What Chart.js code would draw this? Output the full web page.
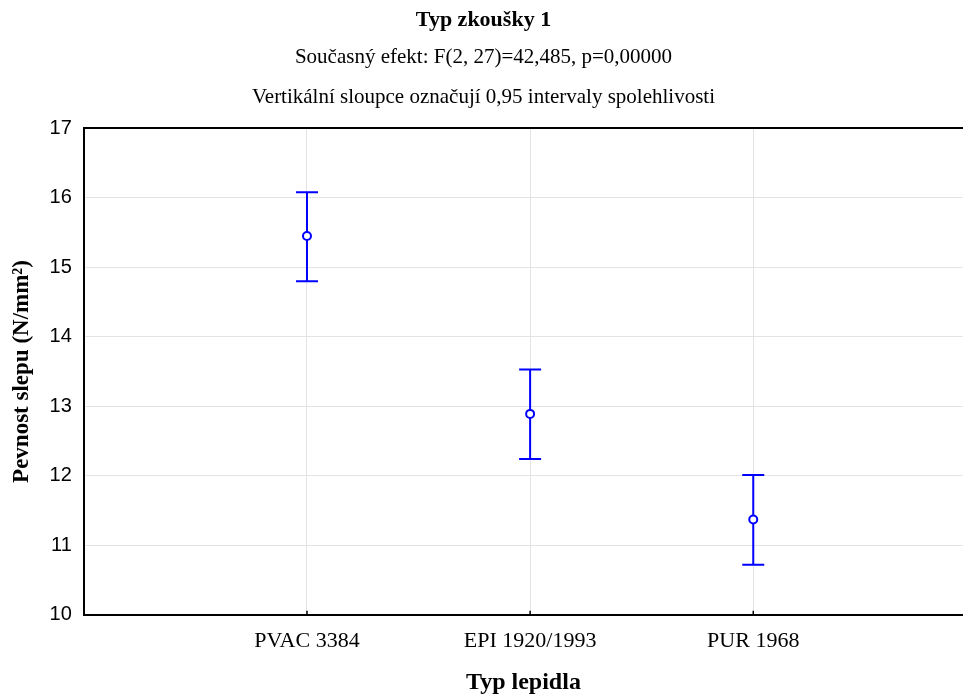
<!DOCTYPE html>
<html>
<head>
<meta charset="utf-8">
<script src="https://cdn.jsdelivr.net/npm/chart.js@4/dist/chart.umd.min.js"></script>
<style>
  html, body { margin: 0; padding: 0; background: #fff; overflow: hidden; }
  #wrap { width: 963px; height: 697px; position: relative; }
</style>
</head>
<body>
<div id="wrap"><canvas id="chart"></canvas></div>
<script>
const categories = ['PVAC 3384', 'EPI 1920/1993', 'PUR 1968'];
const means      = [15.45, 12.89, 11.37];
const upperCI    = [16.08, 13.53, 12.01];
const lowerCI    = [14.80, 12.24, 10.72];
const yTicks     = [10, 11, 12, 13, 14, 15, 16, 17];

const BLUE  = '#0000FF';
const GRID  = '#e3e3e3';
const SERIF = '"Liberation Serif", "Times New Roman", serif';
const SANS  = '"Liberation Sans", Arial, sans-serif';

// vertical confidence bars with caps, plus short inward ticks on the x axis
const errorBars = {
  id: 'errorBars',
  beforeDatasetsDraw(chart) {
    const { ctx, scales: { x, y } } = chart;
    ctx.save();
    ctx.strokeStyle = BLUE;
    ctx.lineWidth = 2;
    categories.forEach((c, i) => {
      const px  = x.getPixelForValue(i + 1);
      const top = y.getPixelForValue(upperCI[i]);
      const bot = y.getPixelForValue(lowerCI[i]);
      ctx.beginPath();
      ctx.moveTo(px, top); ctx.lineTo(px, bot);
      ctx.moveTo(px - 11, top); ctx.lineTo(px + 11, top);
      ctx.moveTo(px - 11, bot); ctx.lineTo(px + 11, bot);
      ctx.stroke();
    });
    ctx.strokeStyle = '#000';
    ctx.lineWidth = 1.5;
    const base = chart.chartArea.bottom;
    categories.forEach((c, i) => {
      const px = x.getPixelForValue(i + 1);
      ctx.beginPath();
      ctx.moveTo(px, base); ctx.lineTo(px, base - 4);
      ctx.stroke();
    });
    ctx.restore();
  }
};

new Chart(document.getElementById('chart'), {
  type: 'scatter',
  data: {
    datasets: [{
      data: means.map((m, i) => ({ x: i + 1, y: m })),
      pointStyle: 'circle',
      pointRadius: 4,
      pointBorderWidth: 2,
      pointBorderColor: BLUE,
      pointBackgroundColor: '#fff',
    }],
  },
  options: {
    responsive: true,
    maintainAspectRatio: false,
    animation: false,
    layout: { autoPadding: false, padding: { left: 4, right: 0, top: 0, bottom: 0 } },
    plugins: {
      legend: { display: false },
      tooltip: { enabled: false },
      title: {
        display: true,
        text: 'Typ zkoušky 1',
        color: '#000',
        font: { family: SERIF, size: 22, weight: 'bold', lineHeight: 1.2 },
        padding: { top: 7, bottom: 4 },
      },
      subtitle: {
        display: true,
        text: [
          'Současný efekt: F(2, 27)=42,485, p=0,00000',
          'Vertikální sloupce označují 0,95 intervaly spolehlivosti',
        ],
        color: '#000',
        font: { family: SERIF, size: 21, lineHeight: 1.9 },
        padding: { top: 0, bottom: 11 },
      },
    },
    scales: {
      x: {
        type: 'linear',
        min: 0,
        max: 3.94,
        afterBuildTicks: axis => { axis.ticks = categories.map((c, i) => ({ value: i + 1 })); },
        ticks: {
          color: '#000',
          font: { family: SERIF, size: 22 },
          padding: 13,
          callback: v => categories[v - 1],
        },
        grid: { color: GRID, lineWidth: 1, drawTicks: false },
        border: { color: '#000', width: 2 },
        title: {
          display: true,
          text: 'Typ lepidla',
          color: '#000',
          font: { family: SERIF, size: 24, weight: 'bold' },
          padding: { top: 1, bottom: 0 },
        },
      },
      y: {
        min: 10,
        max: 17,
        afterBuildTicks: axis => { axis.ticks = yTicks.map(v => ({ value: v })); },
        ticks: {
          color: '#000',
          font: { family: SANS, size: 20 },
          padding: 12,
        },
        grid: {
          drawTicks: false,
          color: ctx => ctx.tick && ctx.tick.value === 17 ? '#000' : GRID,
          lineWidth: ctx => ctx.tick && ctx.tick.value === 17 ? 2 : 1,
        },
        border: { color: '#000', width: 2 },
        title: {
          display: true,
          text: 'Pevnost slepu (N/mm²)',
          color: '#000',
          font: { family: SERIF, size: 23, weight: 'bold' },
          padding: { top: 4, bottom: 2 },
        },
      },
    },
  },
  plugins: [errorBars],
});
</script>
</body>
</html>
